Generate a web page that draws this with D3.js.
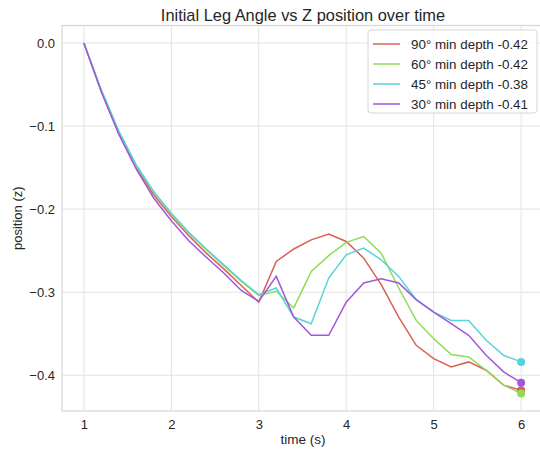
<!DOCTYPE html>
<html>
<head>
<meta charset="utf-8">
<script src="https://cdn.jsdelivr.net/npm/d3@7"></script>
<style>
  body { margin: 0; background: #fff; }
  svg text { font-family: "Liberation Sans", Arial, sans-serif; fill: #262626; }
</style>
</head>
<body>
<div id="chart"></div>
<script>
var times = [1.0, 1.2, 1.4, 1.6, 1.8, 2.0, 2.2, 2.4, 2.6, 2.8, 3.0, 3.2, 3.4,
             3.6, 3.8, 4.0, 4.2, 4.4, 4.6, 4.8, 5.0, 5.2, 5.4, 5.6, 5.8, 6.0];

var deg90 = [0, -0.058, -0.109, -0.150, -0.183, -0.209, -0.232, -0.253, -0.272, -0.292, -0.312,
             -0.263, -0.248, -0.237, -0.230, -0.239, -0.259, -0.291, -0.330, -0.364, -0.380,
             -0.390, -0.384, -0.394, -0.412, -0.418];
var deg60 = [0, -0.057, -0.107, -0.148, -0.180, -0.206, -0.229, -0.249, -0.268, -0.287, -0.304,
             -0.299, -0.319, -0.275, -0.256, -0.240, -0.233, -0.253, -0.295, -0.334, -0.356,
             -0.375, -0.378, -0.394, -0.412, -0.422];
var deg45 = [0, -0.057, -0.106, -0.147, -0.179, -0.205, -0.228, -0.248, -0.267, -0.286, -0.303,
             -0.295, -0.330, -0.338, -0.283, -0.255, -0.247, -0.261, -0.281, -0.309, -0.324,
             -0.334, -0.334, -0.358, -0.376, -0.384];
var deg30 = [0, -0.059, -0.110, -0.152, -0.187, -0.214, -0.238, -0.258, -0.277, -0.298, -0.311,
             -0.281, -0.330, -0.352, -0.352, -0.312, -0.289, -0.284, -0.289, -0.309, -0.324,
             -0.338, -0.352, -0.376, -0.396, -0.409];

var labels = ['90\u00b0 min depth -0.42', '60\u00b0 min depth -0.42',
              '45\u00b0 min depth -0.38', '30\u00b0 min depth -0.41'];
var colors = ['#db5f57', '#91db57', '#57d3db', '#a157db'];
var xTicks = [1, 2, 3, 4, 5, 6];
var yTicks = [0, -0.1, -0.2, -0.3, -0.4];

var series = [deg90, deg60, deg45, deg30];

var _width = 540, _height = 449,
    _left = 62, _top = 25.5, _plotW = 481, _plotH = 385.5;

var svg = d3.select('#chart').append('svg')
    .attr('width', _width)
    .attr('height', _height);

// matplotlib style 5% margins
var xMin = d3.min(times), xMax = d3.max(times);
var xPad = (xMax - xMin) * 0.05;
var yMin = d3.min(series, function(s) { return d3.min(s); }),
    yMax = d3.max(series, function(s) { return d3.max(s); });
var yPad = (yMax - yMin) * 0.05;

var x = d3.scaleLinear().domain([xMin - xPad, xMax + xPad]).range([_left, _left + _plotW]);
var y = d3.scaleLinear().domain([yMin - yPad, yMax + yPad]).range([_top + _plotH, _top]);

var g = svg.append('g');

// grid
g.append('g').selectAll('line')
  .data(xTicks).enter().append('line')
    .attr('x1', function(d) { return x(d); })
    .attr('x2', function(d) { return x(d); })
    .attr('y1', _top).attr('y2', _top + _plotH)
    .attr('stroke', '#e3e3e3').attr('stroke-width', 1);

g.append('g').selectAll('line')
  .data(yTicks).enter().append('line')
    .attr('y1', function(d) { return y(d); })
    .attr('y2', function(d) { return y(d); })
    .attr('x1', _left).attr('x2', _left + _plotW)
    .attr('stroke', '#e3e3e3').attr('stroke-width', 1);

// frame
g.append('rect')
  .attr('x', _left).attr('y', _top)
  .attr('width', _plotW).attr('height', _plotH)
  .attr('fill', 'none').attr('stroke', '#d6d6d6').attr('stroke-width', 1.2);

// axes (ticks only labels, seaborn whitegrid)
var xAxis = d3.axisBottom(x).tickValues(xTicks).tickSize(0).tickPadding(9)
  .tickFormat(d3.format('d'));
var yAxis = d3.axisLeft(y).tickValues(yTicks).tickSize(0).tickPadding(7)
  .tickFormat(function(d) { return d3.format('.1f')(d).replace('-', '\u2212'); });

var gx = g.append('g').attr('transform', 'translate(0,' + (_top + _plotH) + ')').call(xAxis);
var gy = g.append('g').attr('transform', 'translate(' + _left + ',0)').call(yAxis);
[gx, gy].forEach(function(a) {
  a.select('.domain').remove();
  a.selectAll('text').style('font-size', '13px').attr('fill', '#333');
});

// lines
var line = d3.line()
  .x(function(d, i) { return x(times[i]); })
  .y(function(d) { return y(d); });

g.append('g').selectAll('path')
  .data(series).enter().append('path')
    .attr('d', line)
    .attr('fill', 'none')
    .attr('stroke', function(d, i) { return colors[i]; })
    .attr('stroke-width', 1.5);

// end markers
g.append('g').selectAll('circle')
  .data(series).enter().append('circle')
    .attr('cx', function(d) { return x(times[times.length - 1]); })
    .attr('cy', function(d) { return y(d[d.length - 1]); })
    .attr('r', 4)
    .attr('fill', function(d, i) { return colors[i]; });

// title and axis labels
svg.append('text')
  .attr('x', 303).attr('y', 21)
  .attr('text-anchor', 'middle')
  .style('font-size', '16.4px')
  .text('Initial Leg Angle vs Z position over time');

svg.append('text')
  .attr('x', 303).attr('y', 444)
  .attr('text-anchor', 'middle')
  .style('font-size', '13.5px')
  .text('time (s)');

svg.append('text')
  .attr('transform', 'translate(22,' + (_top + _plotH / 2) + ') rotate(-90)')
  .attr('text-anchor', 'middle')
  .style('font-size', '13px')
  .text('position (z)');

// legend
var legend = svg.append('g').attr('transform', 'translate(368,30)');
legend.append('rect')
  .attr('width', 169).attr('height', 83)
  .attr('rx', 3).attr('ry', 3)
  .attr('fill', '#fff').attr('fill-opacity', 0.8)
  .attr('stroke', '#d6d6d6');

var items = legend.selectAll('g.item')
  .data(labels).enter().append('g')
    .attr('class', 'item')
    .attr('transform', function(d, i) { return 'translate(0,' + (14 + i * 20) + ')'; });

items.append('line')
  .attr('x1', 5).attr('x2', 32)
  .attr('stroke', function(d, i) { return colors[i]; })
  .attr('stroke-width', 1.5);

items.append('text')
  .attr('x', 43).attr('y', 4.5)
  .style('font-size', '13.4px')
  .text(function(d) { return d; });
</script>
</body>
</html>
